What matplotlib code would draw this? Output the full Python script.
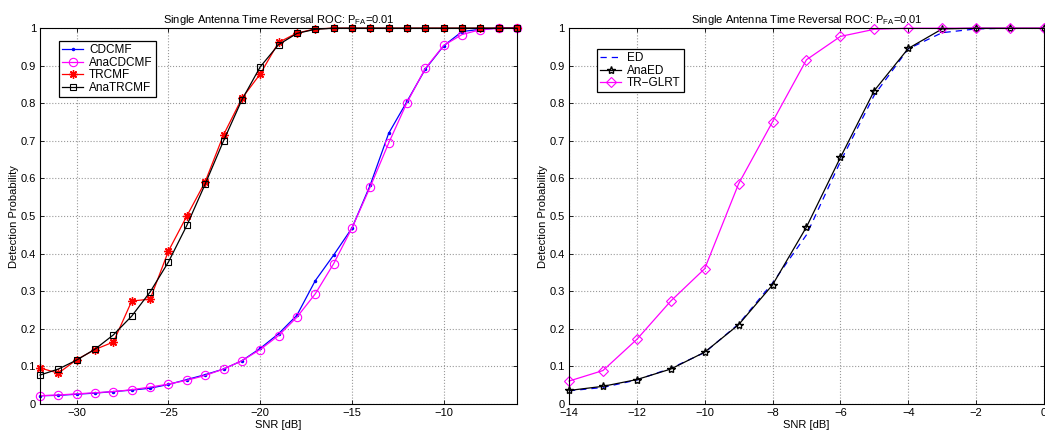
import numpy as np
import matplotlib.pyplot as plt

plt.rcParams['font.family'] = ['Liberation Sans', 'DejaVu Sans']
plt.rcParams['font.size'] = 8
plt.rcParams['xtick.direction'] = 'in'
plt.rcParams['ytick.direction'] = 'in'
plt.rcParams['xtick.top'] = True
plt.rcParams['ytick.right'] = True
plt.rcParams['axes.linewidth'] = 0.8

# left panel data
snr_left = np.arange(-32, -5)
cdcmf = [0.022, 0.023, 0.026, 0.029, 0.033, 0.037, 0.042, 0.052, 0.065, 0.078,
         0.093, 0.115, 0.148, 0.187, 0.236, 0.328, 0.396, 0.468, 0.583, 0.720,
         0.805, 0.891, 0.953, 0.991, 0.997, 1.0, 1.0]
ana_cdcmf = [0.022, 0.024, 0.027, 0.030, 0.033, 0.038, 0.045, 0.053, 0.063, 0.076,
             0.093, 0.115, 0.145, 0.182, 0.231, 0.293, 0.373, 0.468, 0.578, 0.694,
             0.802, 0.893, 0.954, 0.983, 0.996, 1.0, 1.0]
trcmf = [0.096, 0.082, 0.118, 0.145, 0.165, 0.274, 0.279, 0.407, 0.500, 0.591,
         0.716, 0.813, 0.878, 0.962, 0.987, 0.998, 1.0, 1.0, 1.0, 1.0,
         1.0, 1.0, 1.0, 1.0, 1.0, 1.0, 1.0]
ana_trcmf = [0.077, 0.093, 0.117, 0.146, 0.184, 0.234, 0.298, 0.378, 0.475, 0.585,
             0.700, 0.809, 0.897, 0.956, 0.986, 0.997, 1.0, 1.0, 1.0, 1.0,
             1.0, 1.0, 1.0, 1.0, 1.0, 1.0, 1.0]

# right panel data
snr_right = np.arange(-14, 1)
ed = [0.035, 0.044, 0.064, 0.095, 0.137, 0.213, 0.322, 0.450, 0.645, 0.822,
      0.945, 0.988, 0.998, 1.0, 1.0]
ana_ed = [0.036, 0.047, 0.065, 0.093, 0.138, 0.211, 0.317, 0.471, 0.656, 0.834,
          0.946, 0.998, 1.0, 1.0, 1.0]
tr_glrt = [0.061, 0.089, 0.172, 0.274, 0.360, 0.586, 0.751, 0.916, 0.978, 0.997,
           1.0, 1.0, 1.0, 1.0, 1.0]

title = 'Single Antenna Time Reversal ROC: P$_{\\mathregular{FA}}$=0.01'

fig = plt.figure(figsize=(10.45, 4.36), dpi=100)
ax1 = fig.add_axes([0.0383, 0.0734, 0.4565, 0.862])
ax2 = fig.add_axes([0.5445, 0.0734, 0.4545, 0.862])

lw = 0.9
asterisk = (8, 2, 0)
ax1.plot(snr_left, cdcmf, '-', marker='.', color='blue', lw=lw, ms=3,
         clip_on=False, label='CDCMF')
ax1.plot(snr_left, ana_cdcmf, '-', marker='o', color='magenta', lw=lw, ms=6,
         mfc='none', mew=0.8, clip_on=False, label='AnaCDCMF')
ax1.plot(snr_left, trcmf, '-', marker=asterisk, color='red', lw=lw, ms=6,
         mew=1.0, clip_on=False, label='TRCMF')
ax1.plot(snr_left, ana_trcmf, '-', marker='s', color='black', lw=lw, ms=5,
         mfc='none', mew=0.8, clip_on=False, label='AnaTRCMF')
ax1.set_xlim(-32, -6)
ax1.set_xticks([-30, -25, -20, -15, -10])

ax2.plot(snr_right, ed, '--', color='blue', lw=lw, dashes=(5, 4), label='ED')
ax2.plot(snr_right, ana_ed, '-', marker='*', color='black', lw=lw, ms=6,
         mfc='none', mew=1.0, clip_on=False, label='AnaED')
ax2.plot(snr_right, tr_glrt, '-', marker='D', color='magenta', lw=lw, ms=5,
         mfc='none', mew=0.8, clip_on=False, label='TR\u2212GLRT')
ax2.set_xlim(-14, 0)
ax2.set_xticks(np.arange(-14, 1, 2))

for ax in (ax1, ax2):
    ax.set_ylim(0, 1)
    ax.set_yticks(np.arange(0, 1.01, 0.1))
    ax.set_yticklabels(['0', '0.1', '0.2', '0.3', '0.4', '0.5', '0.6', '0.7', '0.8', '0.9', '1'])
    ax.grid(True, linestyle=':', color='#999999', lw=0.8)
    ax.set_xlabel('SNR [dB]', labelpad=1)
    ax.set_ylabel('Detection Probability')
    ax.yaxis.set_label_coords(-0.045, 0.5)
    ax.set_title(title, fontsize=8, pad=4)
    ax.tick_params(length=3, width=0.6, pad=3)

leg_kw = dict(loc='upper left', fancybox=False, edgecolor='black', framealpha=1,
              borderpad=0.25, labelspacing=0.05, handlelength=1.8,
              handletextpad=0.5, borderaxespad=0, fontsize=8.5)
leg1 = ax1.legend(bbox_to_anchor=(0.04, 0.965), **leg_kw)
leg1.get_frame().set_linewidth(0.9)
leg2 = ax2.legend(bbox_to_anchor=(0.059, 0.944), **leg_kw)
leg2.get_frame().set_linewidth(0.9)

fig.savefig('out.png', dpi=100)
